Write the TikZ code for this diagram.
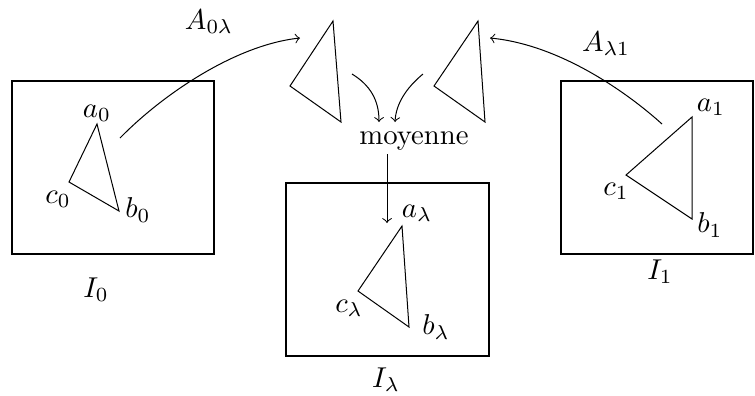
\documentclass[tikz,border=0pt]{standalone}
\usetikzlibrary{arrows}
\begin{document}
\begin{tikzpicture}[x=0.3484pt,y=-0.3484pt,>=to,
  lbl/.style={inner sep=0pt,anchor=center},
  boxline/.style={draw,line width=0.4pt},
  tri/.style={draw,line width=0.35pt,line join=miter},
  conn/.style={->,line width=0.35pt}]
\useasboundingbox (0,0) rectangle (755,395);
% boxes
\draw[boxline] (12,81) rectangle (214,254);
\draw[boxline] (286,183) rectangle (489,356);
\draw[boxline] (561,81) rectangle (753,254);
% triangle 0
\coordinate (a0) at (97,124);
\coordinate (c0) at (69,182);
\coordinate (b0) at (119,211);
\draw[tri] (a0) -- (b0) -- (c0) -- cycle;
\node[lbl] (la0) at (97,113) {$a_0$};
\node[lbl] (lc0) at (58,199) {$c_0$};
\node[lbl] (lb0) at (138,210) {$b_0$};
\node[lbl] (I0) at (96,290) {$I_0$};
% triangle 1
\coordinate (a1) at (692,117);
\coordinate (c1) at (626,175);
\coordinate (b1) at (692,219);
\draw[tri] (a1) -- (b1) -- (c1) -- cycle;
\node[lbl] (la1) at (711,107) {$a_1$};
\node[lbl] (lc1) at (616,191) {$c_1$};
\node[lbl] (lb1) at (710,225) {$b_1$};
\node[lbl] (I1) at (660,272) {$I_1$};
% triangle lambda
\coordinate (al) at (402,226);
\coordinate (cl) at (358,291);
\coordinate (bl) at (409,327);
\draw[tri] (al) -- (bl) -- (cl) -- cycle;
\node[lbl] (lal) at (417,213) {$a_\lambda$};
\node[lbl] (lcl) at (349,308) {$c_\lambda$};
\node[lbl] (lbl) at (436,327) {$b_\lambda$};
\node[lbl] (Il) at (386,380) {$I_\lambda$};
% top triangles
\coordinate (ta1) at (333,21);
\coordinate (ta2) at (290,86);
\coordinate (ta3) at (341,122);
\draw[tri] (ta1) -- (ta3) -- (ta2) -- cycle;
\coordinate (tb1) at (478,21);
\coordinate (tb2) at (434,86);
\coordinate (tb3) at (485,122);
\draw[tri] (tb1) -- (tb3) -- (tb2) -- cycle;
% moyenne
\node[lbl] (moy) at (414,141) {moyenne};
% connectors
\coordinate (s0) at (120,138);
\coordinate (e0) at (300,38);
\draw[conn] (s0) .. controls (162,95) and (235,45) .. (e0);
\node[lbl] (A0l) at (209,22) {$A_{0\lambda}$};
\coordinate (s1) at (662,124);
\coordinate (e1) at (490,38);
\draw[conn] (s1) .. controls (630,95) and (562,45) .. (e1);
\node[lbl] (Al1) at (606,44) {$A_{\lambda1}$};
\coordinate (m1s) at (352,74);
\coordinate (m1e) at (379,122);
\draw[conn] (m1s) .. controls (370,85) and (379,100) .. (m1e);
\coordinate (m2s) at (423,74);
\coordinate (m2e) at (395,122);
\draw[conn] (m2s) .. controls (406,88) and (396,104) .. (m2e);
\coordinate (ds) at (387,154);
\coordinate (de) at (387,223);
\draw[conn] (ds) -- (de);
\end{tikzpicture}
\end{document}
